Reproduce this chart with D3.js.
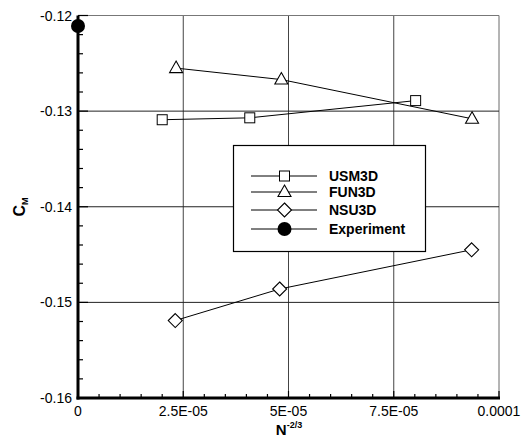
<!DOCTYPE html>
<html><head><meta charset="utf-8">
<script src="https://cdn.jsdelivr.net/npm/d3@7"></script>
<style>body{margin:0;background:#fff}svg{display:block}text{font-family:"Liberation Sans",Arial,sans-serif}</style>
</head><body><svg id="c" width="526" height="437"></svg>
<script>
const usm3dX = [2.0e-5, 4.08e-5, 8.02e-5];
const usm3dY = [-0.1309, -0.1307, -0.1289];
const fun3dX = [2.33e-5, 4.83e-5, 9.36e-5];
const fun3dY = [-0.1255, -0.1267, -0.1308];
const nsu3dX = [2.31e-5, 4.79e-5, 9.35e-5];
const nsu3dY = [-0.1519, -0.1486, -0.1445];
const expX = [0];
const expY = [-0.1211];
const xTicks = [0, 2.5e-5, 5e-5, 7.5e-5, 1e-4];
const xTickLabels = ["0", "2.5E-05", "5E-05", "7.5E-05", "0.0001"];
const yTicks = [-0.12, -0.13, -0.14, -0.15, -0.16];
const yTickLabels = ["-0.12", "-0.13", "-0.14", "-0.15", "-0.16"];
const seriesNames = ["USM3D", "FUN3D", "NSU3D", "Experiment"];

const svg = d3.select("#c");
const L = 78, R = 499, T = 15.5, B = 398;
const x = d3.scaleLinear().domain([0, 1e-4]).range([L, R]);
const y = d3.scaleLinear().domain([-0.16, -0.12]).range([B, T]);

// grid
const g = svg.append("g");
xTicks.slice(1).forEach(v => g.append("line").attr("x1", x(v)).attr("x2", x(v)).attr("y1", T).attr("y2", B)
  .attr("stroke", "#444").attr("stroke-width", v === 1e-4 ? 0.8 : 1));
yTicks.slice(0, 4).forEach(v => g.append("line").attr("x1", L).attr("x2", R).attr("y1", y(v)).attr("y2", y(v))
  .attr("stroke", v === -0.12 ? "#777" : "#222").attr("stroke-width", 1));

// axes
const xAxis = d3.axisBottom(x).tickValues(d3.range(0, 21).map(i => i * 5e-6)).tickSize(0).tickFormat("");
const ax = svg.append("g").attr("transform", `translate(0,${B})`).call(xAxis);
ax.select(".domain").remove();
d3.range(0, 21).forEach(i => {
  const v = i * 5e-6; const major = i % 5 === 0;
  svg.append("line").attr("x1", x(v)).attr("x2", x(v)).attr("y1", B).attr("y2", B - (major ? 7 : 4)).attr("stroke", "#000").attr("stroke-width", 1.2);
});
const ay = svg.append("g").attr("transform", `translate(${L},0)`).call(d3.axisLeft(y).tickValues([]).tickSize(0));
ay.select(".domain").remove();
d3.range(0, 21).forEach(i => {
  const v = -0.16 + i * 0.002; const major = i % 5 === 0;
  svg.append("line").attr("x1", L).attr("x2", L + (major ? 10 : 5)).attr("y1", y(v)).attr("y2", y(v)).attr("stroke", "#000").attr("stroke-width", 1.2);
});
svg.append("line").attr("x1", L).attr("x2", L).attr("y1", T).attr("y2", B + 1.5).attr("stroke", "#000").attr("stroke-width", 3);
svg.append("line").attr("x1", L - 1.5).attr("x2", R + 1).attr("y1", B).attr("y2", B).attr("stroke", "#000").attr("stroke-width", 3);

xTicks.forEach((v, i) => svg.append("text").attr("x", x(v)).attr("y", 416).attr("text-anchor", "middle")
  .attr("font-size", 14).text(xTickLabels[i]));
yTicks.forEach((v, i) => svg.append("text").attr("x", 72).attr("y", y(v) + 5).attr("text-anchor", "end")
  .attr("font-size", 14).text(yTickLabels[i]));

const xt = svg.append("text").attr("x", 289).attr("y", 435).attr("text-anchor", "middle").attr("font-size", 15).attr("font-weight", "bold");
xt.append("tspan").text("N");
xt.append("tspan").attr("dy", -7).attr("font-size", 9).text("-2/3");
const yt = svg.append("text").attr("transform", "translate(25,207) rotate(-90)").attr("text-anchor", "middle").attr("font-size", 16).attr("font-weight", "bold");
yt.append("tspan").text("C");
yt.append("tspan").attr("dy", 3).attr("font-size", 9).text("M");

// markers
function marker(sel, type, cx, cy) {
  if (type === 0) sel.append("rect").attr("x", cx - 5).attr("y", cy - 5).attr("width", 10).attr("height", 10).attr("fill", "#fff").attr("stroke", "#000").attr("stroke-width", 1);
  else if (type === 1) sel.append("path").attr("d", `M${cx},${cy - 7}L${cx + 6.5},${cy + 4.5}L${cx - 6.5},${cy + 4.5}Z`).attr("fill", "#fff").attr("stroke", "#000").attr("stroke-width", 1.1);
  else if (type === 2) sel.append("path").attr("d", `M${cx},${cy - 7}L${cx + 7},${cy}L${cx},${cy + 7}L${cx - 7},${cy}Z`).attr("fill", "#fff").attr("stroke", "#000").attr("stroke-width", 1.1);
  else sel.append("circle").attr("cx", cx).attr("cy", cy).attr("r", 7).attr("fill", "#000");
}
const series = [[usm3dX, usm3dY], [fun3dX, fun3dY], [nsu3dX, nsu3dY], [expX, expY]];
const line = d3.line().x(d => x(d[0])).y(d => y(d[1]));
series.forEach(([xs, ys], k) => {
  const pts = xs.map((v, i) => [v, ys[i]]);
  svg.append("path").attr("d", line(pts)).attr("fill", "none").attr("stroke", "#000").attr("stroke-width", 1);
  pts.forEach(p => marker(svg, k, x(p[0]), y(p[1])));
});

// legend
svg.append("rect").attr("x", 233.5).attr("y", 145.5).attr("width", 192).attr("height", 106).attr("fill", "#fff").attr("stroke", "#000").attr("stroke-width", 1.2);
const rows = [176, 192, 210, 229];
seriesNames.forEach((n, k) => {
  svg.append("line").attr("x1", 251).attr("x2", 317).attr("y1", rows[k]).attr("y2", rows[k]).attr("stroke", "#000").attr("stroke-width", 1);
  marker(svg, k, 284.5, rows[k]);
  svg.append("text").attr("x", 329).attr("y", rows[k] + 5).attr("font-size", 14).attr("font-weight", "bold").text(n);
});
</script></body></html>
